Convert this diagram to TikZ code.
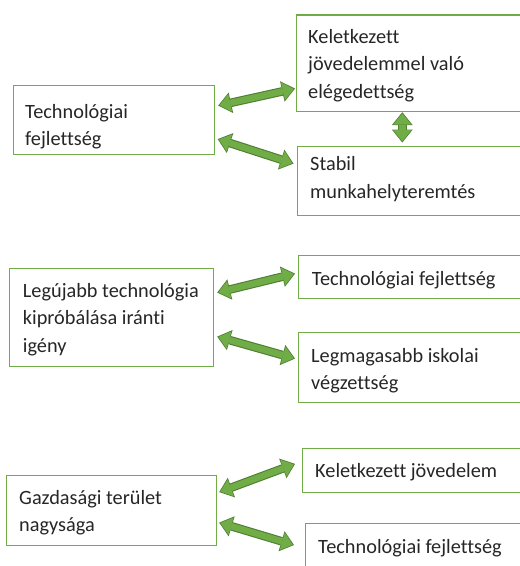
\documentclass[tikz,border=0pt]{standalone}
\usepackage{fontspec}
\setmainfont{Carlito}[Ligatures=NoCommon]
\usetikzlibrary{arrows.meta,calc}
\definecolor{grn}{HTML}{70AD47}
\definecolor{dkgrn}{HTML}{507E32}
\definecolor{txtc}{HTML}{262626}
\tikzset{
  box/.style={draw=grn, line width=1.2pt, rectangle, inner sep=0pt, anchor=north west},
  txt/.style={anchor=base west, inner sep=0pt, text=txtc, font=\fontsize{20.3}{27.5}\selectfont},
  dblout/.style={draw=dkgrn, line width=8.6pt,
    {Triangle[width=21pt,length=13pt,line width=0pt]}-{Triangle[width=21pt,length=13pt,line width=0pt]}},
  dblin/.style={draw=grn, line width=6.4pt, shorten <=1.3pt, shorten >=1.3pt,
    {Triangle[width=18pt,length=11pt,line width=0pt]}-{Triangle[width=18pt,length=11pt,line width=0pt]}},
}
\newcommand{\dblarrow}[2]{\draw[dblout] #1 -- #2; \draw[dblin] #1 -- #2;}
\begin{document}
\begin{tikzpicture}[x=1pt,y=-1pt]
\useasboundingbox (0,0) rectangle (520,566);
% boxes
\node[box, minimum width=200.8pt, minimum height=69pt] (a) at (12.7,85) {};
\node[box, minimum width=225.3pt, minimum height=96.2pt] (b) at (295.7,14.3) {};
\node[box, minimum width=224pt, minimum height=69pt] (c) at (297,146) {};
\node[box, minimum width=204pt, minimum height=98pt] (d) at (9,268) {};
\node[box, minimum width=223pt, minimum height=43pt] (e) at (298,255) {};
\node[box, minimum width=223pt, minimum height=70pt] (f) at (298,332) {};
\node[box, minimum width=210pt, minimum height=70pt] (g) at (6,475) {};
\node[box, minimum width=219pt, minimum height=44pt] (h) at (302,448) {};
\node[box, minimum width=216pt, minimum height=60pt] (i) at (305,523) {};
% texts
\node[txt] (ta) at (25,118) {\parbox[t]{180pt}{Technológiai\\fejlettség}};
\node[txt] (tb) at (308,43.3) {\parbox[t]{200pt}{Keletkezett\\jövedelemmel való\\elégedettség}};
\node[txt] (tc) at (310,170.5) {\parbox[t]{200pt}{Stabil\\munkahelyteremtés}};
\node[txt] (td) at (22.7,297) {\parbox[t]{185pt}{Legújabb technológia\\kipróbálása iránti\\igény}};
\node[txt] (te) at (311.7,285) {\parbox[t]{200pt}{Technológiai fejlettség}};
\node[txt] (tf) at (311,362) {\parbox[t]{200pt}{Legmagasabb iskolai\\végzettség}};
\node[txt] (tg) at (19,504) {\parbox[t]{190pt}{Gazdasági terület\\nagysága}};
\node[txt] (th) at (315,477) {\parbox[t]{200pt}{Keletkezett jövedelem}};
\node[txt] (ti) at (318,553) {\parbox[t]{200pt}{Technológiai fejlettség}};
% arrows
\dblarrow{($(a.east)+(3.5,-14.5)$)}{($(b.west)+(-0.7,25.6)$)}
\dblarrow{($(a.east)+(3,19)$)}{($(c.west)+(-3.5,-17.5)$)}
\dblarrow{($(b.south)+(-6.65,0.5)$)}{($(c.north)+(-7.3,-3.5)$)}
\dblarrow{($(d.east)+(3,-25)$)}{($(e.west)+(-3,-3.5)$)}
\dblarrow{($(d.east)+(3,19)$)}{($(f.west)+(-3,-9)$)}
\dblarrow{($(g.east)+(2,-18.5)$)}{($(h.west)+(-7,-6.7)$)}
\dblarrow{($(g.east)+(2,12)$)}{($(i.north west)+(-11,22)$)}
\end{tikzpicture}
\end{document}
